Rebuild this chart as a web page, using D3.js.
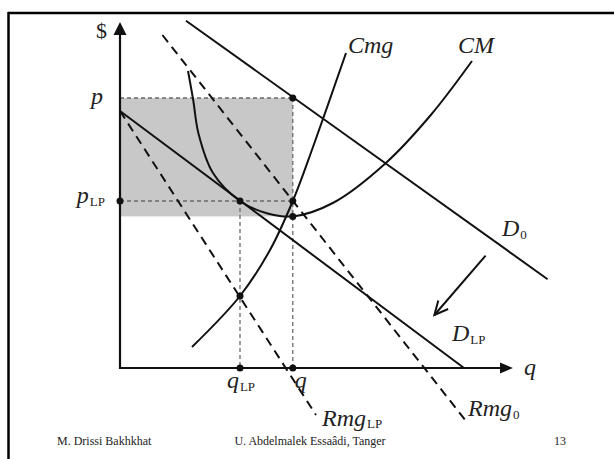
<!DOCTYPE html>
<html><head><meta charset="utf-8">
<script src="https://cdn.jsdelivr.net/npm/d3@7"></script>
<style>body{margin:0;background:#fff} svg{display:block}</style>
</head><body><svg id="c" width="614" height="459"></svg>
<script>
// ---- data (economic units) ----
const qLP = 30, qOpt = 43.2;
const pHigh = 67.5, pLP = 41.75, cmMin = 37.9, cmgAtQLP = 18;
const demandLP = [[0,64.25],[86,0]];
const demand0 = [[16.5,86.8],[106.9,22.2]];
const rmgLP = [[0,64.25],[49,-11.75]];
const rmg0 = [[10.6,83.25],[86.7,-13.5]];
const cmg = [[18,5.25],[30,18],[37.5,29.5],[43.2,41.75],[48.25,55.25],[56.5,78.75]];
const cm = [[17,74.25],[18.3,67],[19.6,58.7],[23.25,48.75],[30,41.75],[36.7,38.7],[43.2,37.9],[53.2,41.25],[66.4,51.2],[77.7,63.25],[88,76.75]];
const shiftArrow = [[91.4,28.1],[78.6,13.25]];
const dots = [[0,pLP],[qLP,pLP],[qOpt,pHigh],[qOpt,pLP],[qOpt,cmMin],[qLP,cmgAtQLP],[qLP,0],[qOpt,0]];
const footer = ["M. Drissi Bakhkhat","U. Abdelmalek Essaâdi, Tanger","13"];

const svg = d3.select("#c");
const x = d3.scaleLinear().domain([0,98.25]).range([120,513]);
const y = d3.scaleLinear().domain([0,86.5]).range([368,22]);
const line = d3.line().x(d=>x(d[0])).y(d=>y(d[1]));
const curve = d3.line().x(d=>x(d[0])).y(d=>y(d[1])).curve(d3.curveCatmullRom.alpha(0.5));

svg.append("rect").attr("width",614).attr("height",459).attr("fill","#fff");
// slide border
svg.append("line").attr("x1",8).attr("x2",614).attr("y1",13).attr("y2",13).attr("stroke","#000").attr("stroke-width",2.5);
svg.append("line").attr("x1",8.5).attr("x2",8.5).attr("y1",12).attr("y2",459).attr("stroke","#000").attr("stroke-width",2.5);

// shaded profit area
svg.append("rect").attr("x",x(0)).attr("y",y(pHigh))
  .attr("width",x(qOpt)-x(0)).attr("height",y(cmMin)-y(pHigh)).attr("fill","#c8c8c8");

// guide dashes
const guides = [
  [[0,pHigh],[qOpt,pHigh]],
  [[0,pLP],[qOpt,pLP]],
  [[qLP,pLP],[qLP,0]],
  [[qOpt,pHigh],[qOpt,0]]
];
svg.selectAll(".g").data(guides).enter().append("path").attr("d",line)
  .attr("stroke","#6a6a6a").attr("stroke-width",1.3).attr("stroke-dasharray","4,3").attr("fill","none");

// Rmg dashed lines
[rmgLP, rmg0].forEach(d=>{
  svg.append("path").attr("d",line(d)).attr("stroke","#111").attr("stroke-width",2)
    .attr("stroke-dasharray","9,6").attr("fill","none");
});
// demand lines
[demandLP, demand0].forEach(d=>{
  svg.append("path").attr("d",line(d)).attr("stroke","#111").attr("stroke-width",2).attr("fill","none");
});
// cost curves
[cmg, cm].forEach(d=>{
  svg.append("path").attr("d",curve(d)).attr("stroke","#111").attr("stroke-width",2).attr("fill","none");
});

// axes
svg.append("line").attr("x1",x(0)).attr("x2",x(0)).attr("y1",y(0)+1).attr("y2",y(86.5)+10).attr("stroke","#111").attr("stroke-width",2.2);
svg.append("line").attr("x1",x(0)-1).attr("x2",x(98.25)-10).attr("y1",y(0)).attr("y2",y(0)).attr("stroke","#111").attr("stroke-width",2.2);
svg.append("path").attr("d",`M${x(0)},${y(86.5)} L${x(0)-6.5},${y(86.5)+13} L${x(0)+6.5},${y(86.5)+13}Z`).attr("fill","#111");
svg.append("path").attr("d",`M${x(98.25)},${y(0)} L${x(98.25)-13},${y(0)-5.5} L${x(98.25)-13},${y(0)+5.5}Z`).attr("fill","#111");

// shift arrow
{
  const [a,b] = shiftArrow;
  const x1=x(a[0]),y1=y(a[1]),x2=x(b[0]),y2=y(b[1]);
  const ang=Math.atan2(y2-y1,x2-x1), L=15, s=0.45;
  svg.append("line").attr("x1",x1).attr("y1",y1).attr("x2",x2).attr("y2",y2).attr("stroke","#111").attr("stroke-width",2);
  svg.append("path").attr("d",`M${x2-L*Math.cos(ang-s)},${y2-L*Math.sin(ang-s)} L${x2},${y2} L${x2-L*Math.cos(ang+s)},${y2-L*Math.sin(ang+s)}`)
    .attr("stroke","#111").attr("stroke-width",2).attr("fill","none");
}

// dots
svg.selectAll(".d").data(dots).enter().append("circle")
  .attr("cx",d=>x(d[0])).attr("cy",d=>y(d[1])).attr("r",3.5).attr("fill","#111");

// labels
const F = "'Liberation Serif','Times New Roman',serif";
function lab(px,py,main,sub,anchor,italic=true,size=24,subDy=3){
  const t = svg.append("text").attr("x",px).attr("y",py).attr("font-family",F)
    .attr("font-size",size).attr("fill","#222").attr("text-anchor",anchor||"start");
  t.append("tspan").text(main).attr("font-style",italic?"italic":"normal");
  if(sub) t.append("tspan").text(sub).attr("font-size",13).attr("font-style","normal").attr("dx",1).attr("dy",subDy);
  return t;
}
lab(107,38,"$",null,"end",false,22);
lab(103,104,"p",null,"end");
lab(105,203,"p","LP","end");
lab(x(qLP)+1,388,"q","LP","middle");
lab(x(qOpt)+8,388,"q",null,"middle");
lab(524,375,"q",null,"start");
lab(348,53,"Cmg",null,"start");
lab(458,53,"CM",null,"start");
lab(502,236,"D","0","start");
lab(452,341,"D","LP","start");
lab(468,416,"Rmg","0","start");
lab(322,426,"Rmg","LP","start",true,24,2);

// footer
const ff = svg.append("g").attr("font-family",F).attr("font-size",12).attr("fill","#222");
ff.append("text").attr("x",57).attr("y",445).text(footer[0]);
ff.append("text").attr("x",310).attr("y",445).attr("text-anchor","middle").text(footer[1]);
ff.append("text").attr("x",566).attr("y",445).attr("text-anchor","end").text(footer[2]);
</script></body></html>
